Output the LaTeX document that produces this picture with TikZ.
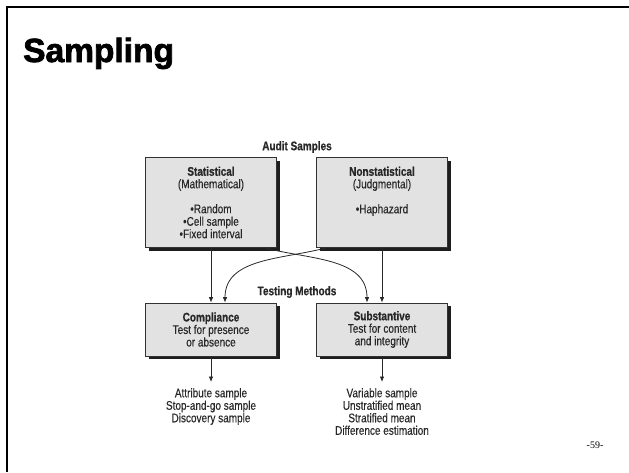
\documentclass[tikz,border=0pt]{standalone}
\usepackage{fontspec}
\setmainfont{Liberation Sans}
\newfontfamily\condfont[FakeStretch=0.8, FakeBold=0.3, BoldFeatures={FakeBold=0.6}]{Liberation Sans}
\newfontfamily\titlefont[BoldFeatures={FakeBold=2.2}]{Liberation Sans}
\newfontfamily\pagefont{Liberation Serif}
\usepackage{tikz}
\usetikzlibrary{
  arrows.meta,
  shadows
}
\definecolor{boxfill}{RGB}{226, 226, 226}
\definecolor{boxline}{RGB}{50,  50,  50}
\definecolor{txtgray}{RGB}{40,  40,  40}
\definecolor{shadowgray}{RGB}{30, 30, 30}
\tikzset{
  % Boxes
  sampbox/.style = {draw=boxline, fill=boxfill, line width=0.7pt,
                    minimum width=131pt, inner sep=0pt, align=center,
                    font=\condfont\fontsize{12.5}{12.5}\selectfont, text=txtgray,
                    drop shadow={shadow xshift=3pt, shadow yshift=-3pt,
                                 fill=shadowgray, opacity=1}},
  topbox/.style  = {sampbox, minimum height=90pt},
  lowbox/.style  = {sampbox, minimum height=53pt},
  % Texts
  headtxt/.style = {font=\condfont\bfseries\fontsize{12.5}{12.5}\selectfont, text=txtgray},
  listtxt/.style = {font=\condfont\fontsize{12.5}{12.5}\selectfont, text=txtgray,
                    align=center, anchor=north, inner xsep=0pt, inner ysep=6pt},
  % Connectors
  conn/.style    = {-{Latex[length=5.5pt, width=4.5pt]}, line width=0.8pt, draw=txtgray},
}
\begin{document}
\begin{tikzpicture}[x=1pt, y=1pt]
  \useasboundingbox (0,0) rectangle (629,-472);
  % Frame and title
  \draw[line width=2pt] (7,-472) -- (7,-7) -- (629,-7);
  \node[anchor=base west, inner sep=0pt, font=\titlefont\bfseries\fontsize{33.5}{36}\selectfont] (title) at (23,-62) {Sampling};
  % Audit samples
  \node[headtxt] (audit) at (297,-147) {Audit Samples};
  \node[topbox] (stat) at (211,-202.5)
    {{\bfseries Statistical}\\(Mathematical)\\~\\•Random\\•Cell sample\\•Fixed interval};
  \node[topbox] (nonstat) at (382,-202.5)
    {{\bfseries Nonstatistical}\\(Judgmental)\\~\\•Haphazard\\~\\~};
  % Testing methods
  \node[headtxt] (testing) at (297,-292) {Testing Methods};
  \node[lowbox] (compl) at (211,-329.5)
    {{\bfseries Compliance}\\Test for presence\\or absence};
  \node[lowbox] (subst) at (382,-329.5)
    {{\bfseries Substantive}\\Test for content\\and integrity};
  % Lists
  \node[listtxt] (attr) at (211,-382)
    {Attribute sample\\Stop-and-go sample\\Discovery sample};
  \node[listtxt] (vari) at (382,-382)
    {Variable sample\\Unstratified mean\\Stratified mean\\Difference estimation};
  % Arrows
  \draw[conn] (stat) -- (compl);
  \draw[conn] (nonstat) -- (subst);
  \draw[conn] ([xshift=-12pt]stat.south east) to[out=-15, in=90] ([xshift=-15pt]subst.north);
  \draw[conn] ([xshift=10pt]nonstat.south west) to[out=195, in=90] ([xshift=14pt]compl.north);
  \draw[conn] (compl) -- (attr);
  \draw[conn] (subst) -- (vari);
  % Page number
  \node[font=\pagefont\fontsize{10}{12}\selectfont] (pagenum) at (595,-445) {-59-};
\end{tikzpicture}
\end{document}
